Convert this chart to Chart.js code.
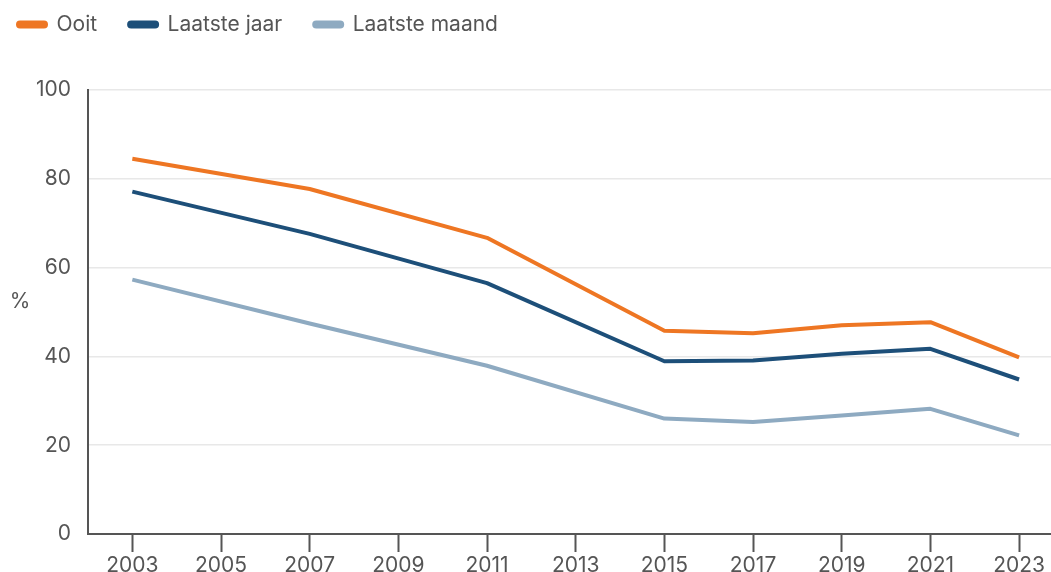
<!DOCTYPE html>
<html>
<head>
<meta charset="utf-8">
<script src="https://cdn.jsdelivr.net/npm/chart.js@4/dist/chart.umd.min.js"></script>
<style>
  html, body { margin: 0; padding: 0; background: #fff; }
  #wrap { width: 1051px; height: 572px; position: relative; }
</style>
</head>
<body>
<div id="wrap"><canvas id="c"></canvas></div>
<script>
const years = [2003, 2007, 2011, 2015, 2017, 2019, 2021, 2023];
const ooit = [84.5, 77.7, 66.7, 45.8, 45.2, 47.0, 47.7, 39.8];
const laatsteJaar = [77.1, 67.6, 56.5, 38.9, 39.1, 40.6, 41.7, 34.8];
const laatsteMaand = [57.3, 47.4, 37.9, 26.0, 25.2, 26.7, 28.2, 22.2];
const xTickYears = [2003, 2005, 2007, 2009, 2011, 2013, 2015, 2017, 2019, 2021, 2023];
const yTicks = [0, 20, 40, 60, 80, 100];
const seriesNames = ['Ooit', 'Laatste jaar', 'Laatste maand'];

const FONT = 'Inter, "Open Sans", sans-serif';
const FS = 21;
const TEXT = '#555555';
const colors = ['#EE7623', '#1D4F79', '#8EAAC1'];

function pts(vals) { return years.map((y, i) => ({ x: y, y: vals[i] })); }

const percentTitle = {
  id: 'percentTitle',
  afterDraw(chart) {
    const ctx = chart.ctx;
    ctx.save();
    ctx.font = FS + 'px ' + FONT;
    ctx.fillStyle = TEXT;
    ctx.textAlign = 'center';
    ctx.textBaseline = 'middle';
    ctx.fillText('%', 20, 302);
    ctx.restore();
  }
};

const legendHeight = {
  id: 'legendHeight',
  beforeInit(chart) {
    const lg = chart.legend;
    if (!lg) return;
    const orig = lg.fit;
    lg.fit = function () { orig.call(this); this.height = 108; };
  }
};

new Chart(document.getElementById('c'), {
  type: 'line',
  data: {
    datasets: [ooit, laatsteJaar, laatsteMaand].map((vals, i) => ({
      label: seriesNames[i],
      data: pts(vals),
      borderColor: colors[i],
      backgroundColor: colors[i],
      borderWidth: 4,
      pointRadius: 0,
      tension: 0,
      borderJoinStyle: 'round'
    }))
  },
  options: {
    responsive: true,
    maintainAspectRatio: false,
    animation: false,
    layout: { padding: { left: -14, top: -18, right: 0, bottom: 0 } },
    plugins: {
      legend: {
        display: true,
        position: 'top',
        align: 'start',
        labels: {
          font: { family: FONT, size: FS },
          color: TEXT,
          boxWidth: 28,
          boxHeight: 4,
          useBorderRadius: true,
          borderRadius: 2,
          padding: 32
        }
      },
      tooltip: { enabled: false }
    },
    scales: {
      x: {
        type: 'linear',
        min: 2002,
        max: 2023.72,
        afterBuildTicks(s) { s.ticks = xTickYears.map(v => ({ value: v })); },
        afterFit(s) { s.height = 38; },
        ticks: {
          font: { family: FONT, size: FS },
          color: TEXT,
          padding: 1,
          maxRotation: 0,
          autoSkip: false,
          callback: v => String(v)
        },
        grid: { drawOnChartArea: false, drawTicks: true, tickLength: 18, color: '#555', tickWidth: 2 },
        border: { color: '#555', width: 2 }
      },
      y: {
        min: 0,
        max: 100,
        afterBuildTicks(s) { s.ticks = yTicks.map(v => ({ value: v })); },
        afterFit(s) { s.width = 102; },
        ticks: {
          font: { family: FONT, size: FS },
          color: TEXT,
          padding: 17
        },
        grid: { color: '#e8e8e8', lineWidth: 1.5, drawTicks: false },
        border: { color: '#555', width: 2 }
      }
    }
  },
  plugins: [percentTitle, legendHeight]
});
</script>
</body>
</html>
